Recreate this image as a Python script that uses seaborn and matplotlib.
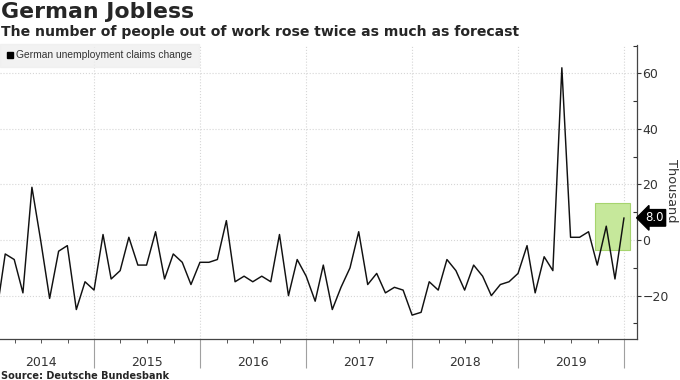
import pandas as pd
import numpy as np
import seaborn as sns
import matplotlib.dates as mdates
from matplotlib import pyplot as plt
from matplotlib.lines import Line2D
from matplotlib.patches import Rectangle

# monthly change in German unemployment claims, thousands (Jan 2014 - Dec 2019)
months = pd.date_range('2014-01-31', '2019-12-31', freq='ME')
claims_change = [
    -25, -5, -7, -19, 19, 0, -21, -4, -2, -25, -15, -18,      # 2014
    2, -14, -11, 1, -9, -9, 3, -14, -5, -8, -16, -8,          # 2015
    -8, -7, 7, -15, -13, -15, -13, -15, 2, -20, -7, -13,      # 2016
    -22, -9, -25, -17, -10, 3, -16, -12, -19, -17, -18, -27,  # 2017
    -26, -15, -18, -7, -11, -18, -9, -13, -20, -16, -15, -12, # 2018
    -2, -19, -6, -11, 62, 1, 1, 3, -9, 5, -14, 8,             # 2019
]
years = [2014, 2015, 2016, 2017, 2018, 2019]
y_ticks = [-20, 0, 20, 40, 60]
latest_label = '8.0'
highlight_start, highlight_end = '2019-09-21', '2020-01-21'
highlight_low, highlight_high = -3.4, 13.4

df = pd.DataFrame({'date': months, 'change': claims_change})

sns.set_style('white')
plt.rcParams['font.family'] = ['DejaVu Sans']

fig = plt.figure(figsize=(6.8, 3.8), dpi=100)
ax = fig.add_axes([0.0, 0.1079, 0.9368, 0.7737])

# highlight box behind the last few months
x0 = mdates.date2num(pd.Timestamp(highlight_start))
x1 = mdates.date2num(pd.Timestamp(highlight_end))
ax.add_patch(Rectangle((x0, highlight_low), x1 - x0, highlight_high - highlight_low,
                       facecolor='#c6e89b', edgecolor='#a6d46e', lw=0.8, zorder=1))

sns.lineplot(data=df, x='date', y='change', ax=ax, color='#111111', lw=1.05, zorder=3)

# y axis on the right
ax.yaxis.tick_right()
ax.set_yticks(y_ticks)
ax.set_yticks([-30, -10, 10, 30, 50, 70], minor=True)
ax.tick_params(axis='y', which='major', direction='out', length=3, width=0.8,
               color='#333333', labelsize=9, labelcolor='#333333', pad=1)
ax.tick_params(axis='y', which='minor', direction='in', length=3, width=0.8, color='#333333')
ax.set_ylabel('')
fig.text(672 / 680, 1 - 191 / 380, 'Thousand', rotation=270, ha='center', va='center',
         fontsize=9.3, color='#333333')

# x axis: year separators as long ticks, quarter ticks short
year_starts = [pd.Timestamp(f'{y}-01-01') for y in years + [years[-1] + 1]]
ax.set_xticks(year_starts)
ax.set_xticklabels([])
ax.xaxis.set_minor_locator(mdates.MonthLocator(bymonth=[4, 7, 10]))
ax.tick_params(axis='x', which='both', bottom=True)
ax.tick_params(axis='x', which='major', direction='out', length=21, width=0.8, color='#a0a0a0')
ax.tick_params(axis='x', which='minor', direction='out', length=3, width=0.7, color='#555555')
ax.set_xlabel('')

# limits after the ticks, so the ticks do not widen the view
ax.set_xlim(pd.Timestamp('2014-02-10'), pd.Timestamp('2020-02-14'))
ax.set_ylim(-35.6, 70.2)

for y in years:
    ax.text(pd.Timestamp(f'{y}-07-02'), -0.092, str(y), transform=ax.get_xaxis_transform(),
            ha='center', va='baseline', fontsize=9, color='#333333')

# grid
ax.grid(True, which='major', axis='both', color='#d6d6d6', ls=':', lw=0.8)
for s in ['top', 'left']:
    ax.spines[s].set_visible(False)
for s in ['right', 'bottom']:
    ax.spines[s].set_color('#444444')
    ax.spines[s].set_linewidth(0.9)

# legend
handle = Line2D([], [], marker='s', color='black', lw=0, markersize=5)
leg = ax.legend([handle], ['German unemployment claims change'], loc='upper left',
                bbox_to_anchor=(0, 1.005), borderaxespad=0, frameon=True, fancybox=False,
                prop={'family': 'Liberation Sans', 'size': 7.4}, handlelength=0.6,
                handletextpad=0.3, borderpad=0.65, labelcolor='#333333')
leg.get_frame().set_facecolor('#efefef')
leg.get_frame().set_edgecolor('#efefef')

# last value tag
ax.annotate(latest_label, xy=(1.0, claims_change[-1]), xycoords=('axes fraction', 'data'),
            xytext=(6, 0), textcoords='offset points', ha='left', va='center',
            fontsize=8.5, color='white',
            bbox=dict(boxstyle='larrow,pad=0.15', fc='black', ec='black'))

fig.text(0.002, 1 - 18 / 380, 'German Jobless', fontsize=15.8, fontweight='bold', va='baseline')
fig.text(0.002, 1 - 36 / 380, 'The number of people out of work rose twice as much as forecast',
         fontsize=10.1, fontweight='bold', va='baseline')
fig.text(0.002, 1 - 379 / 380, 'Source: Deutsche Bundesbank', fontsize=7.0,
         fontweight='bold', va='baseline')

fig.savefig('out.png', dpi=100)
